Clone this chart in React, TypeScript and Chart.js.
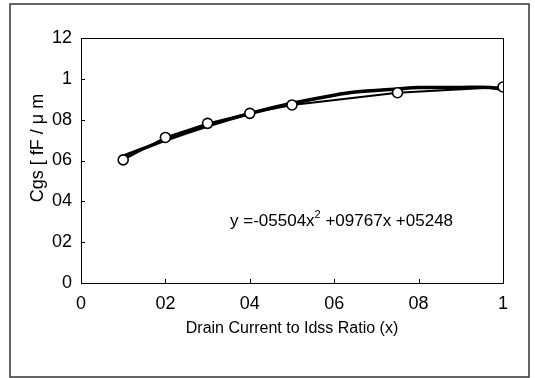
import React, { useEffect, useRef } from 'react';
import { Chart, registerables } from 'chart.js';

Chart.register(...registerables);

// ---- data ----
const ratioX = [0.1, 0.2, 0.3, 0.4, 0.5, 0.75, 1.0];
const cgsMeasured = [0.603, 0.713, 0.782, 0.831, 0.872, 0.932, 0.96];
const fitX = [0.1, 0.2, 0.3, 0.4, 0.5, 0.6, 0.65, 0.75, 0.8, 0.9, 0.97, 1.0];
const fitY = [0.62, 0.7, 0.77, 0.83, 0.88, 0.92, 0.935, 0.95, 0.957, 0.958, 0.958, 0.947];
const xTickLabels = ['0', '02', '04', '06', '08', '1'];
const yTickLabels = ['0', '02', '04', '06', '08', '1', '12'];
const equationParts = ['y =-05504x', '2', ' +09767x +05248'];
const xTitle = 'Drain Current to Idss Ratio (x)';
const yTitle = 'Cgs [ fF / \u03bc m';

const FONT = "'Liberation Sans', Arial, sans-serif";

const decorPlugin = {
  id: 'decor',
  beforeDraw(chart: any) {
    const { ctx, width, height } = chart;
    ctx.save();
    ctx.fillStyle = '#fff';
    ctx.fillRect(0, 0, width, height);
    ctx.strokeStyle = '#333';
    ctx.lineWidth = 1.5;
    ctx.strokeRect(10, 4, 519, 373);
    ctx.restore();
  },
  afterDraw(chart: any) {
    const { ctx, chartArea } = chart;
    const xs = chart.scales.x;
    const ys = chart.scales.y;
    ctx.save();
    ctx.strokeStyle = '#000';
    ctx.lineWidth = 1;
    ctx.strokeRect(chartArea.left + 0.5, chartArea.top + 0.5, chartArea.right - chartArea.left, chartArea.bottom - chartArea.top);
    ctx.beginPath();
    xs.ticks.forEach((t: any) => {
      const px = Math.round(xs.getPixelForValue(t.value)) + 0.5;
      ctx.moveTo(px, chartArea.bottom);
      ctx.lineTo(px, chartArea.bottom - 4);
    });
    ys.ticks.forEach((t: any) => {
      const py = Math.round(ys.getPixelForValue(t.value)) + 0.5;
      ctx.moveTo(chartArea.left, py);
      ctx.lineTo(chartArea.left + 4, py);
    });
    ctx.stroke();

    // y title
    ctx.fillStyle = '#000';
    ctx.font = `18px ${FONT}`;
    ctx.textAlign = 'center';
    ctx.textBaseline = 'middle';
    ctx.translate(38, 148);
    ctx.rotate(-Math.PI / 2);
    ctx.fillText(yTitle, 0, 0);
    ctx.setTransform(1, 0, 0, 1, 0, 0);

    // equation
    ctx.textAlign = 'left';
    ctx.textBaseline = 'alphabetic';
    let x = 230;
    const base = 226;
    ctx.font = `17px ${FONT}`;
    ctx.fillText(equationParts[0], x, base);
    x += ctx.measureText(equationParts[0]).width;
    ctx.font = `11px ${FONT}`;
    ctx.fillText(equationParts[1], x, base - 8);
    x += ctx.measureText(equationParts[1]).width;
    ctx.font = `17px ${FONT}`;
    ctx.fillText(equationParts[2], x, base);
    ctx.restore();
  },
};

export default function App() {
  const ref = useRef<HTMLCanvasElement>(null);
  useEffect(() => {
    document.body.style.margin = '0';
    const canvas = ref.current;
    if (!canvas) return;
    const chart = new Chart(canvas, {
      type: 'scatter',
      data: {
        datasets: [
          {
            label: 'measured',
            data: ratioX.map((x, i) => ({ x, y: cgsMeasured[i] })),
            showLine: true,
            borderColor: '#000',
            borderWidth: 2,
            pointRadius: 5,
            pointBorderWidth: 1.6,
            pointBackgroundColor: '#fff',
            pointBorderColor: '#000',
            order: 0,
          },
          {
            label: 'fit',
            data: fitX.map((x, i) => ({ x, y: fitY[i] })),
            showLine: true,
            borderColor: '#000',
            borderWidth: 3.5,
            pointRadius: 0,
            tension: 0.3,
            order: 1,
          },
        ],
      },
      options: {
        responsive: false,
        animation: false,
        layout: { padding: { left: 28, top: 38, right: 32, bottom: 40 } },
        plugins: { legend: { display: false }, tooltip: { enabled: false } },
        scales: {
          x: {
            type: 'linear',
            min: 0,
            max: 1,
            grid: { display: false, drawTicks: false },
            border: { display: false },
            ticks: {
              stepSize: 0.2,
              padding: 10,
              color: '#000',
              font: { family: FONT, size: 18 },
              maxRotation: 0,
              callback: (v: any) => xTickLabels[Math.round(Number(v) / 0.2)] ?? '',
            },
            title: {
              display: true,
              text: xTitle,
              color: '#000',
              font: { family: FONT, size: 16 },
              padding: { top: 0, bottom: 0 },
            },
            afterFit: (s: any) => {
              s.height = 55;
            },
          },
          y: {
            type: 'linear',
            min: 0,
            max: 1.2,
            grid: { display: false, drawTicks: false },
            border: { display: false },
            ticks: {
              stepSize: 0.2,
              padding: 9,
              color: '#000',
              font: { family: FONT, size: 18 },
              callback: (v: any) => yTickLabels[Math.round(Number(v) / 0.2)] ?? '',
            },
            afterFit: (s: any) => {
              s.width = 53;
            },
          },
        },
      },
      plugins: [decorPlugin],
    });
    return () => chart.destroy();
  }, []);
  return (
    <div style={{ width: 535, height: 378 }}>
      <canvas ref={ref} width={535} height={378} />
    </div>
  );
}
